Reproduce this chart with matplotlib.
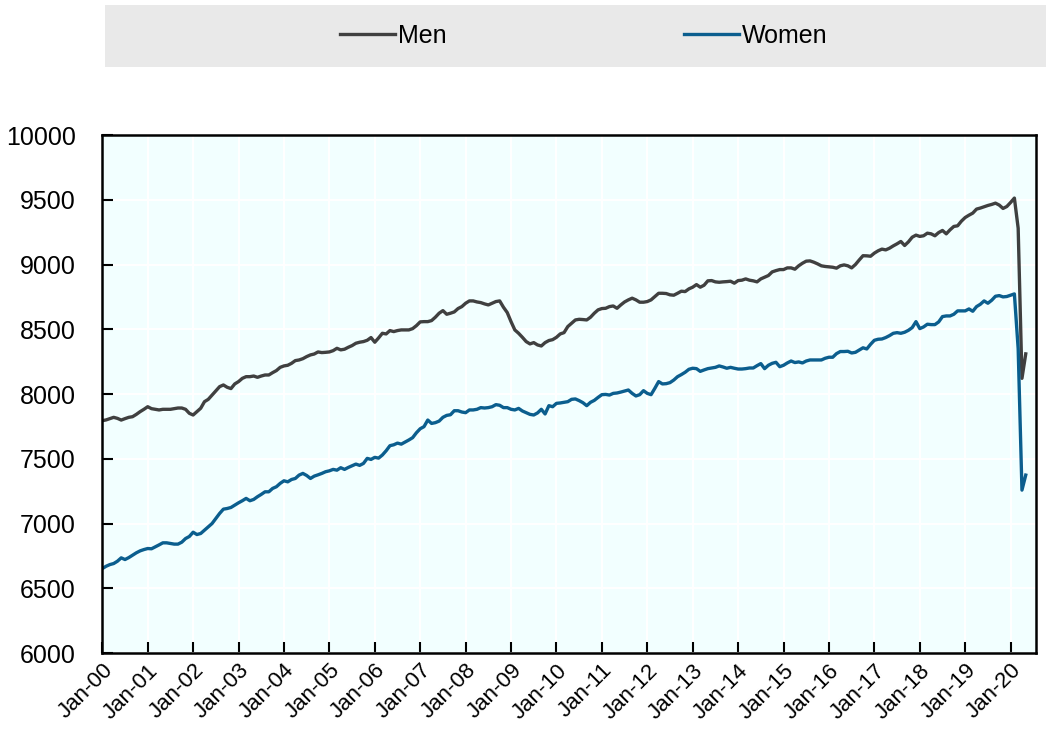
import matplotlib
matplotlib.use("Agg")
import matplotlib.pyplot as plt
from matplotlib.patches import Rectangle

# monthly values, Jan-2000 .. May-2020 (one row per year)
men = [
    7794, 7800, 7810, 7820, 7812, 7799, 7810, 7820, 7825, 7843, 7864, 7882,
    7902, 7887, 7882, 7877, 7882, 7882, 7882, 7887, 7892, 7892, 7882, 7851,
    7838, 7864, 7890, 7941, 7959, 7992, 8026, 8057, 8070, 8052, 8042, 8078,
    8096, 8121, 8134, 8134, 8139, 8129, 8139, 8147, 8147, 8165, 8181, 8206,
    8217, 8222, 8237, 8258, 8263, 8273, 8289, 8302, 8309, 8325, 8320, 8322,
    8325, 8335, 8353, 8341, 8346, 8361, 8374, 8392, 8400, 8405, 8415, 8436,
    8400, 8433, 8469, 8464, 8490, 8482, 8490, 8495, 8495, 8495, 8505, 8528,
    8557, 8559, 8559, 8567, 8593, 8624, 8644, 8616, 8624, 8634, 8660, 8675,
    8701, 8719, 8719, 8711, 8706, 8696, 8688, 8701, 8714, 8719, 8670, 8629,
    8559, 8495, 8469, 8438, 8405, 8387, 8397, 8379, 8371, 8397, 8413, 8420,
    8438, 8464, 8474, 8521, 8546, 8572, 8577, 8575, 8572, 8593, 8624, 8650,
    8660, 8662, 8675, 8680, 8662, 8688, 8711, 8727, 8740, 8727, 8709, 8709,
    8714, 8727, 8753, 8778, 8778, 8776, 8766, 8763, 8778, 8794, 8791, 8812,
    8825, 8845, 8825, 8840, 8874, 8876, 8866, 8863, 8866, 8868, 8871, 8856,
    8876, 8879, 8889, 8879, 8874, 8866, 8889, 8902, 8915, 8943, 8953, 8961,
    8961, 8974, 8974, 8964, 8990, 9010, 9026, 9028, 9018, 9005, 8990, 8985,
    8982, 8979, 8972, 8990, 8997, 8990, 8974, 9000, 9035, 9068, 9067, 9064,
    9088, 9106, 9119, 9113, 9126, 9144, 9160, 9178, 9147, 9175, 9211, 9227,
    9217, 9222, 9242, 9237, 9222, 9247, 9263, 9237, 9268, 9294, 9299, 9335,
    9363, 9381, 9397, 9428, 9436, 9446, 9456, 9464, 9474, 9459, 9433, 9448,
    9479, 9513, 9280, 8121, 8310,
]

women = [
    6652, 6670, 6683, 6691, 6709, 6735, 6722, 6737, 6756, 6774, 6789, 6799,
    6807, 6805, 6820, 6835, 6851, 6851, 6846, 6841, 6841, 6856, 6884, 6900,
    6933, 6915, 6923, 6949, 6975, 7000, 7039, 7078, 7111, 7116, 7124, 7142,
    7160, 7176, 7194, 7176, 7186, 7207, 7225, 7245, 7245, 7271, 7284, 7310,
    7330, 7322, 7340, 7348, 7374, 7387, 7371, 7348, 7366, 7376, 7387, 7400,
    7407, 7418, 7412, 7431, 7418, 7433, 7446, 7459, 7449, 7464, 7503, 7495,
    7511, 7505, 7529, 7562, 7601, 7608, 7621, 7613, 7629, 7645, 7663, 7701,
    7732, 7748, 7799, 7773, 7779, 7791, 7820, 7835, 7840, 7871, 7871, 7861,
    7856, 7877, 7877, 7882, 7895, 7892, 7895, 7902, 7918, 7913, 7895, 7895,
    7882, 7877, 7889, 7869, 7856, 7843, 7838, 7854, 7882, 7846, 7910, 7902,
    7928, 7931, 7936, 7941, 7959, 7962, 7949, 7933, 7910, 7936, 7951, 7974,
    7995, 7997, 7992, 8005, 8008, 8015, 8023, 8031, 8005, 7985, 7995, 8026,
    8005, 7995, 8044, 8096, 8078, 8080, 8088, 8108, 8134, 8150, 8168, 8191,
    8199, 8196, 8175, 8186, 8196, 8201, 8206, 8217, 8209, 8199, 8206, 8199,
    8193, 8193, 8196, 8201, 8201, 8219, 8235, 8196, 8222, 8237, 8245, 8211,
    8222, 8240, 8255, 8243, 8248, 8240, 8255, 8263, 8263, 8263, 8263, 8276,
    8284, 8284, 8312, 8328, 8328, 8330, 8317, 8322, 8340, 8357, 8348, 8384,
    8415, 8423, 8425, 8436, 8451, 8469, 8474, 8469, 8477, 8492, 8513, 8559,
    8505, 8518, 8539, 8536, 8536, 8557, 8598, 8603, 8603, 8616, 8642, 8642,
    8642, 8657, 8639, 8675, 8693, 8719, 8701, 8724, 8755, 8760, 8750, 8753,
    8763, 8773, 8350, 7258, 7374,
]

years = list(range(2000, 2021))
tick_labels = [f"Jan-{y % 100:02d}" for y in years]
y_ticks = list(range(6000, 10001, 500))

plt.rcParams["font.family"] = ["Liberation Sans", "DejaVu Sans"]

fig = plt.figure(figsize=(10.46, 7.33), dpi=100)
ax = fig.add_axes([0.0978, 0.1091, 0.8926, 0.7067])

# grey band holding the legend
fig.patches.append(Rectangle((0.1004, 0.9086), 0.8996, 0.0846, transform=fig.transFigure,
                             facecolor="#E9E9E9", edgecolor="none", zorder=0))

months = list(range(len(men)))
ax.plot(months, men, color="#404040", lw=2.4, label="Men", solid_joinstyle="round")
ax.plot(months, women, color="#0B5E8E", lw=2.4, label="Women", solid_joinstyle="round")

ax.set_facecolor("#F2FFFF")
ax.set_xlim(0, 246.7)
ax.set_ylim(6000, 10000)
ax.set_xticks([12 * i for i in range(len(years))])
ax.set_xticklabels(tick_labels, rotation=45, ha="right", rotation_mode="anchor")
ax.set_yticks(y_ticks)
ax.tick_params(axis="both", direction="in", length=8, width=1.5, colors="black")
ax.tick_params(axis="x", pad=5, labelsize=16)
ax.tick_params(axis="y", pad=19, labelsize=18)
ax.grid(True, color="white", lw=1.5)
ax.set_axisbelow(True)
for s in ax.spines.values():
    s.set_color("black")
    s.set_linewidth(1.8)

fig.legend(loc="center", bbox_to_anchor=(0.558, 0.951), ncol=2, frameon=False, fontsize=18,
           handlelength=2.2, handletextpad=0.1, columnspacing=9.5)

fig.savefig("out.png", dpi=100)
